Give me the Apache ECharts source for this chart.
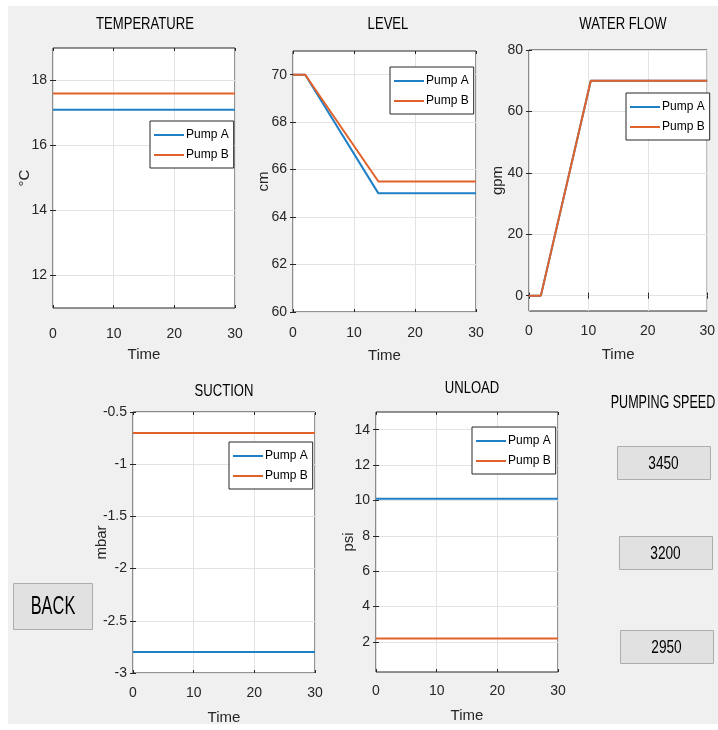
<!DOCTYPE html>
<html>
<head>
<meta charset="utf-8">
<script src="https://cdn.jsdelivr.net/npm/echarts@6/dist/echarts.min.js"></script>
<style>html,body{margin:0;padding:0;background:#fff;}#c{width:718px;height:730px;}</style>
</head>
<body>
<div id="c"></div>
<script>
// ---------- data ----------
const seriesNames = ['Pump A', 'Pump B'];
const timeTicks = [0, 10, 20, 30];

const tempTime = [0, 30];
const tempA = [17.1, 17.1];
const tempB = [17.6, 17.6];
const tempTicks = [12, 14, 16, 18];

const levelTime = [0, 2, 14, 30];
const levelA = [70, 70, 65, 65];
const levelB = [70, 70, 65.5, 65.5];
const levelTicks = [60, 62, 64, 66, 68, 70];

const flowTime = [0, 2, 10.4, 30];
const flowA = [0, 0, 70, 70];
const flowB = [0, 0, 70, 70];
const flowTicks = [0, 20, 40, 60, 80];

const suctionTime = [0, 30];
const suctionA = [-2.8, -2.8];
const suctionB = [-0.7, -0.7];
const suctionTicks = [-3, -2.5, -2, -1.5, -1, -0.5];

const unloadTime = [0, 30];
const unloadA = [10.1, 10.1];
const unloadB = [2.2, 2.2];
const unloadTicks = [2, 4, 6, 8, 10, 12, 14];

const speedValues = ['3450', '3200', '2950'];

// ---------- layout ----------
const FONT = "'Liberation Sans Narrow', 'Liberation Sans', Arial, sans-serif";
const TXT = '#262626';
const colA = '#1f80c8', colB = '#e0622a';

const panels = [
  {title:'TEMPERATURE', unit:'°C', time:tempTime, a:tempA, b:tempB, ticks:tempTicks, ymin:11, ymax:19,
   grid:{left:53, top:48, width:182, height:260}, legend:{left:150, top:121}, xMargin:19, xNameGap:39, yNameGap:21, tpos:[145,24]},
  {title:'LEVEL', unit:'cm', time:levelTime, a:levelA, b:levelB, ticks:levelTicks, ymin:60, ymax:71,
   grid:{left:293, top:51, width:183, height:261}, legend:{left:390, top:67}, xMargin:14, xNameGap:36, yNameGap:22, tpos:[388,24]},
  {title:'WATER FLOW', unit:'gpm', time:flowTime, a:flowA, b:flowB, ticks:flowTicks, ymin:-5, ymax:80,
   grid:{left:529, top:50, width:182, height:261}, legend:{left:626, top:93}, xMargin:13, xNameGap:36, yNameGap:24, tpos:[623,24]},
  {title:'SUCTION', unit:'mbar', time:suctionTime, a:suctionA, b:suctionB, ticks:suctionTicks, ymin:-3, ymax:-0.5,
   grid:{left:133, top:412, width:182, height:261}, legend:{left:229, top:442}, xMargin:13, xNameGap:37, yNameGap:24, tpos:[224,391]},
  {title:'UNLOAD', unit:'psi', time:unloadTime, a:unloadA, b:unloadB, ticks:unloadTicks, ymin:0.3, ymax:15,
   grid:{left:376, top:412, width:182, height:260}, legend:{left:472, top:427}, xMargin:12, xNameGap:36, yNameGap:20, tpos:[472,388]}
];

const grids = [], xAxes = [], yAxes = [], series = [], legends = [], graphics = [];

graphics.push({type:'rect', shape:{x:8, y:6, width:710, height:718}, style:{fill:'#f0f0f0'}, z:-10});

panels.forEach((p, i) => {
  grids.push(Object.assign({show:true, backgroundColor:'#fff', borderColor:TXT, borderWidth:1}, p.grid));
  const xi = xAxes.length, yi = yAxes.length;
  xAxes.push({type:'value', gridIndex:i, min:0, max:30, name:'Time', nameLocation:'middle', nameGap:p.xNameGap,
    nameMoveOverlap:false,
    nameTextStyle:{fontFamily:FONT, fontSize:15, color:TXT},
    axisLine:{show:false}, axisTick:{inside:true, length:3, lineStyle:{color:TXT}, customValues:timeTicks},
    axisLabel:{fontFamily:FONT, fontSize:14, color:TXT, margin:p.xMargin, customValues:timeTicks},
    splitLine:{show:true, lineStyle:{color:'#e3e3e3', width:1}}});
  xAxes.push({type:'value', gridIndex:i, min:0, max:30, position:'top',
    axisLine:{show:false}, axisTick:{inside:true, length:3, lineStyle:{color:TXT}, customValues:timeTicks},
    axisLabel:{show:false, customValues:timeTicks}, splitLine:{show:false}});
  yAxes.push({type:'value', gridIndex:i, min:p.ymin, max:p.ymax, name:p.unit, nameLocation:'middle', nameGap:p.yNameGap, nameRotate:90,
    nameMoveOverlap:false,
    nameTextStyle:{fontFamily:FONT, fontSize:15, color:TXT},
    axisLine:{show:false}, axisTick:{inside:true, length:3, lineStyle:{color:TXT}, customValues:p.ticks},
    axisLabel:{fontFamily:FONT, fontSize:14, color:TXT, margin:6, customValues:p.ticks},
    splitLine:{show:true, lineStyle:{color:'#e3e3e3', width:1}}});
  yAxes.push({type:'value', gridIndex:i, min:p.ymin, max:p.ymax, position:'right',
    axisLine:{show:false}, axisTick:{inside:true, length:3, lineStyle:{color:TXT}, customValues:p.ticks},
    axisLabel:{show:false, customValues:p.ticks}, splitLine:{show:false}});
  [[p.a, colA, seriesNames[0]], [p.b, colB, seriesNames[1]]].forEach(([vals, col, nm]) => {
    series.push({type:'line', name:nm, xAxisIndex:xi, yAxisIndex:yi, symbol:'none', animation:false,
      data:p.time.map((t, k) => [t, vals[k]]), lineStyle:{color:col, width:2}, itemStyle:{color:col}});
  });
  legends.push({data:seriesNames, left:p.legend.left, top:p.legend.top, orient:'vertical',
    backgroundColor:'#fff', borderColor:TXT, borderWidth:1, padding:[7,5,6,4], itemGap:6,
    icon:'rect', itemWidth:30, itemHeight:2, selectedMode:false,
    textStyle:{fontFamily:FONT, fontSize:12, color:'#000', lineHeight:14, padding:[0,0,0,-3]}});
  graphics.push({type:'text', x:p.tpos[0], y:p.tpos[1], scaleX:0.77,
    style:{text:p.title, font:'17px ' + FONT, fill:'#000', textAlign:'center', textVerticalAlign:'middle'}});
});

// right-hand controls
graphics.push({type:'text', x:663, y:403, scaleX:0.66,
  style:{text:'PUMPING SPEED', font:'19px ' + FONT, fill:'#000', textAlign:'center', textVerticalAlign:'middle'}});
const btnBoxes = [[617,446,93,33],[619,536,93,33],[620,630,93,33]];
speedValues.forEach((v, k) => {
  const b = btnBoxes[k];
  graphics.push({type:'rect', shape:{x:b[0]+0.5, y:b[1]+0.5, width:b[2], height:b[3]}, style:{fill:'#e1e1e1', stroke:'#adadad', lineWidth:1}});
  graphics.push({type:'text', x:b[0]+b[2]/2, y:b[1]+b[3]/2+1, scaleX:0.72,
    style:{text:v, font:'19px ' + FONT, fill:'#000', textAlign:'center', textVerticalAlign:'middle'}});
});
graphics.push({type:'rect', shape:{x:13.5, y:583.5, width:79, height:46}, style:{fill:'#e1e1e1', stroke:'#adadad', lineWidth:1}});
graphics.push({type:'text', x:53, y:607, scaleX:0.63,
  style:{text:'BACK', font:'26px ' + FONT, fill:'#000', textAlign:'center', textVerticalAlign:'middle'}});

const chart = echarts.init(document.getElementById('c'), null, {renderer:'canvas'});
chart.setOption({
  animation:false,
  backgroundColor:'#fff',
  grid:grids, xAxis:xAxes, yAxis:yAxes, series:series, legend:legends, graphic:graphics
});
</script>
</body>
</html>
